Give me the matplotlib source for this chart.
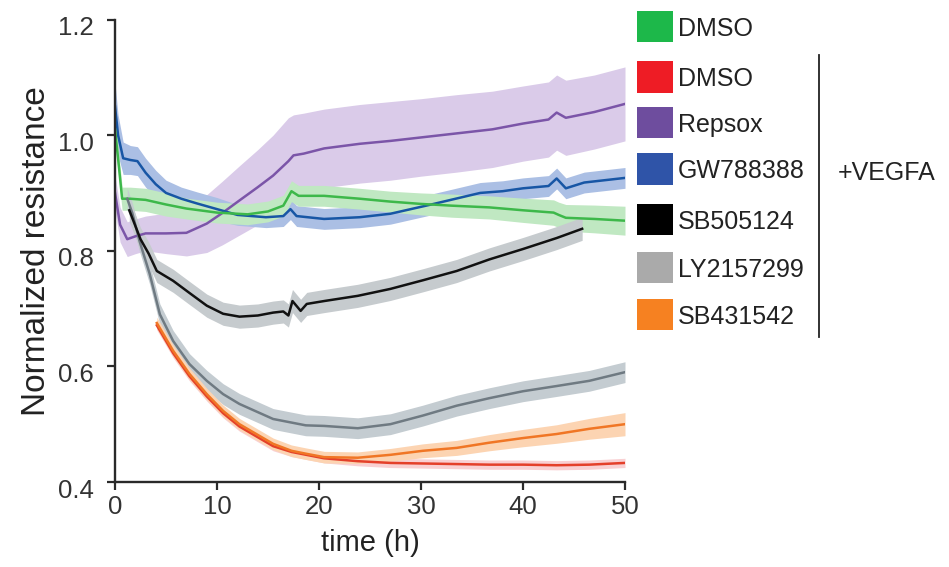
import numpy as np
import matplotlib
matplotlib.use("Agg")
import matplotlib.pyplot as plt
import matplotlib.transforms as mtransforms
from matplotlib.patches import Rectangle
from matplotlib.lines import Line2D

plt.rcParams['font.family'] = ['Liberation Sans', 'DejaVu Sans']

# ---------------- data ----------------
t_green = [0, 0.3, 0.7, 1.5, 3, 5, 7, 10, 13, 15, 16.5, 17.3, 18, 20.5, 24, 27, 30, 33, 36.7, 40, 43, 43.5, 44.2, 47, 50]
m_green = [1.01, 0.96, 0.89, 0.89, 0.888, 0.88, 0.873, 0.866, 0.863, 0.868, 0.878, 0.903, 0.895, 0.895, 0.89, 0.885, 0.881, 0.878, 0.875, 0.87, 0.866, 0.862, 0.857, 0.855, 0.852]
s_green = [0.025, 0.022, 0.02, 0.02, 0.02, 0.02, 0.018, 0.018, 0.018, 0.018, 0.018, 0.018, 0.018, 0.018, 0.018, 0.018, 0.019, 0.02, 0.02, 0.021, 0.022, 0.022, 0.023, 0.024, 0.025]

t_blue = [0, 0.3, 0.8, 1.5, 2.2, 3, 4, 5, 6.5, 8, 10, 12, 14.8, 16.5, 17.2, 17.8, 20.5, 24, 27, 31, 35.8, 38, 40, 42.5, 43.3, 44.2, 46, 50]
m_blue = [1.05, 1.0, 0.96, 0.957, 0.955, 0.935, 0.915, 0.9, 0.89, 0.882, 0.872, 0.862, 0.858, 0.86, 0.872, 0.86, 0.855, 0.858, 0.864, 0.88, 0.9, 0.903, 0.908, 0.912, 0.925, 0.908, 0.918, 0.926]
s_blue = [0.04, 0.035, 0.028, 0.025, 0.025, 0.025, 0.024, 0.022, 0.02, 0.02, 0.02, 0.018, 0.018, 0.018, 0.018, 0.018, 0.018, 0.018, 0.018, 0.018, 0.018, 0.018, 0.018, 0.018, 0.018, 0.018, 0.018, 0.018]

t_purple = [0, 0.5, 1.2, 2, 3, 5, 7, 9, 10.5, 12.2, 14, 15.5, 17, 17.5, 18.5, 20.5, 24, 27, 30, 33.5, 37, 40, 42.5, 43.3, 44.2, 47, 50]
m_purple = [0.9, 0.845, 0.82, 0.825, 0.83, 0.83, 0.831, 0.847, 0.865, 0.887, 0.91, 0.93, 0.955, 0.965, 0.968, 0.977, 0.985, 0.99, 0.996, 1.003, 1.01, 1.02, 1.027, 1.039, 1.03, 1.04, 1.054]
s_purple = [0.03, 0.03, 0.03, 0.03, 0.03, 0.035, 0.04, 0.05, 0.055, 0.06, 0.065, 0.07, 0.075, 0.07, 0.07, 0.068, 0.068, 0.068, 0.067, 0.067, 0.066, 0.065, 0.065, 0.065, 0.065, 0.064, 0.064]

t_black = [1.4, 2.5, 3.3, 4.1, 5.7, 7.3, 9, 10.6, 12.2, 14, 15.5, 16.5, 17, 17.4, 18.2, 18.8, 20.5, 23.8, 27, 30.2, 33.5, 36.7, 40, 43.3, 45.8]
m_black = [0.87, 0.82, 0.795, 0.765, 0.748, 0.727, 0.705, 0.691, 0.686, 0.688, 0.693, 0.695, 0.688, 0.713, 0.696, 0.708, 0.713, 0.722, 0.734, 0.749, 0.765, 0.785, 0.803, 0.822, 0.838]
s_black = [0.02] * len(t_black)

t_grey = [1.2, 1.7, 2.4, 3.4, 4.4, 5.7, 7.3, 9, 10.6, 12.2, 15.5, 18.7, 20.5, 23.8, 27, 30.2, 33.5, 36.7, 40, 43.3, 46.5, 50]
m_grey = [0.89, 0.865, 0.817, 0.76, 0.69, 0.644, 0.604, 0.575, 0.552, 0.535, 0.509, 0.498, 0.497, 0.493, 0.5, 0.515, 0.532, 0.545, 0.557, 0.566, 0.575, 0.59]
s_grey = [0.018] * len(t_grey)

t_orange = [4.1, 5.7, 7.3, 9, 10.6, 12.2, 15.5, 17.3, 18.7, 20.5, 23.8, 27, 30.2, 33.5, 36.7, 40, 43.3, 46.5, 50]
m_orange = [0.675, 0.627, 0.587, 0.552, 0.523, 0.5, 0.466, 0.454, 0.449, 0.443, 0.442, 0.447, 0.454, 0.459, 0.468, 0.476, 0.483, 0.492, 0.5]
s_orange = [0.01, 0.01, 0.01, 0.01, 0.01, 0.01, 0.01, 0.01, 0.01, 0.01, 0.01, 0.011, 0.012, 0.013, 0.014, 0.015, 0.016, 0.018, 0.02]

t_red = [4.1, 5.7, 7.3, 9, 10.6, 12.2, 15.5, 17.3, 20.5, 23.8, 27, 30.2, 33.5, 36.7, 40, 43.3, 46.5, 50]
m_red = [0.671, 0.623, 0.583, 0.548, 0.519, 0.496, 0.462, 0.452, 0.441, 0.436, 0.433, 0.432, 0.431, 0.43, 0.43, 0.429, 0.43, 0.433]
s_red = [0.008] * len(t_red)

legend_labels = ["DMSO", "DMSO", "Repsox", "GW788388", "SB505124", "LY2157299", "SB431542"]
legend_colors = ["#1db84a", "#ee1c25", "#6e4d9e", "#2f54a8", "#000000", "#aaaaaa", "#f68121"]
x_ticks = [0, 10, 20, 30, 40, 50]
y_ticks = [0.4, 0.6, 0.8, 1.0, 1.2]

# ---------------- figure ----------------
W, H = 949, 567
fig = plt.figure(figsize=(W / 100, H / 100), dpi=100)
ax = fig.add_axes([115 / W, 1 - 482 / H, (625 - 115) / W, (482 - 19.5) / H])

series = [
    (t_purple, m_purple, s_purple, "#7b55a8", "#dacbe9"),
    (t_blue, m_blue, s_blue, "#1756a5", "#abbfe4"),
    (t_green, m_green, s_green, "#3db84a", "#c0e8c2"),
    (t_grey, m_grey, s_grey, "#6f7a82", "#c4ccd1"),
    (t_black, m_black, s_black, "#111111", "#c6cbce"),
    (t_red, m_red, s_red, "#e4402a", "#f9d0d2"),
    (t_orange, m_orange, s_orange, "#f07625", "#fcd4b2"),
]
for t, m, s, lc, bc in series:
    t = np.asarray(t, float)
    m = np.asarray(m, float)
    s = np.asarray(s, float)
    ax.fill_between(t, m - s, m + s, color=bc, lw=0)
    ax.plot(t, m, color=lc, lw=1.8, solid_joinstyle='round')

ax.set_xlim(0, 50)
ax.set_ylim(0.4, 1.2)
ax.set_xticks(x_ticks)
ax.set_yticks(y_ticks)
ax.set_xticklabels([str(v) for v in x_ticks])
ax.set_yticklabels([f"{v:.1f}" for v in y_ticks])
for side in ("top", "right"):
    ax.spines[side].set_visible(False)
for side in ("left", "bottom"):
    ax.spines[side].set_linewidth(1.7)
    ax.spines[side].set_color("#2a2a2a")
ax.tick_params(axis='both', direction='out', length=5.5, width=1.6, color="#2a2a2a",
               labelsize=18.5, labelcolor="#333333")
ax.tick_params(axis='y', pad=10)
ax.tick_params(axis='x', pad=4)
# y tick labels sit slightly below their ticks in the reference
offset = mtransforms.ScaledTranslation(0, -6 / 100, fig.dpi_scale_trans)
for lbl in ax.get_yticklabels():
    lbl.set_transform(lbl.get_transform() + offset)
ax.set_xlabel("time (h)", fontsize=21, color="#222222", labelpad=7)
ax.set_ylabel("Normalized resistance", fontsize=24, color="#222222", labelpad=4)

# ---------------- legend ----------------
centers = [26, 77, 122.5, 169, 219.5, 267.5, 314.5]
for lab, col, cy in zip(legend_labels, legend_colors, centers):
    fig.add_artist(Rectangle((637 / W, 1 - (cy + 15.5) / H), 36 / W, 31 / H,
                             transform=fig.transFigure, facecolor=col, edgecolor='none'))
    fig.text(678 / W, 1 - cy / H, lab, fontsize=18, color="#222222", ha='left', va='center_baseline')

fig.add_artist(Line2D([819 / W, 819 / W], [1 - 55 / H, 1 - 337 / H],
                      transform=fig.transFigure, color="#222222", lw=1.3))
fig.text(838 / W, 1 - 170 / H, "+VEGFA", fontsize=18, color="#222222", ha='left', va='center_baseline')

fig.savefig("out.png", dpi=100)
